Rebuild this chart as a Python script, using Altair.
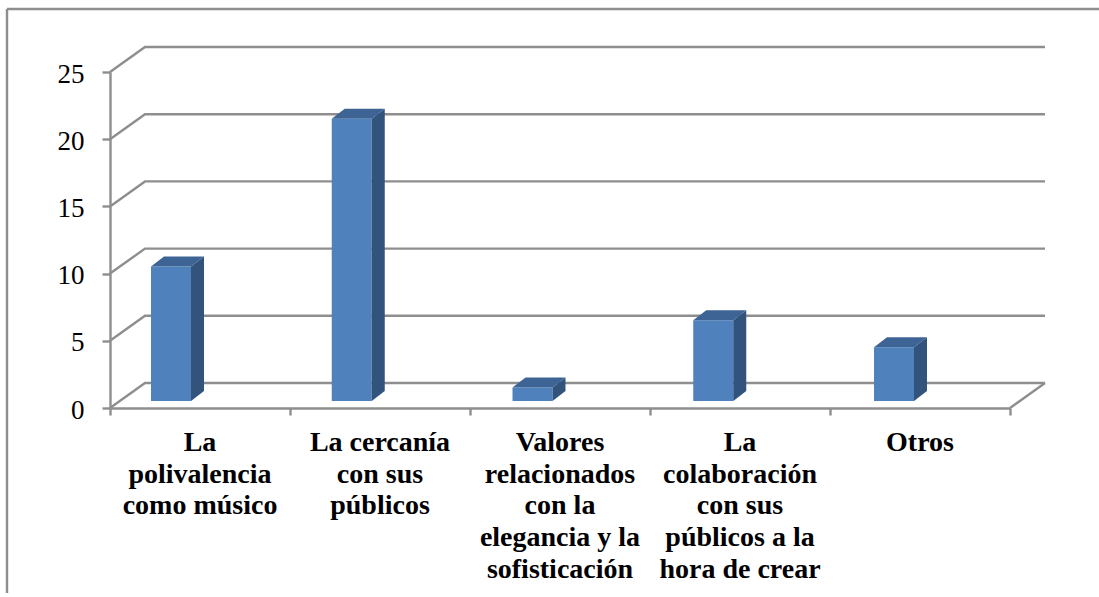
import altair as alt
import pandas as pd

# Survey responses per category
categories = [
    "La\npolivalencia\ncomo músico",
    "La cercanía\ncon sus\npúblicos",
    "Valores\nrelacionados\ncon la\nelegancia y la\nsofisticación",
    "La\ncolaboración\ncon sus\npúblicos a la\nhora de crear",
    "Otros",
]
values = [10, 21, 1, 6, 4]
y_ticks = [0, 5, 10, 15, 20, 25]
x_ticks = [0, 1, 2, 3, 4, 5]

GRAY = "#8e8e8e"
FRONT = "#4f81bd"
TOP = "#3d6494"
SIDE = "#32537c"
FONT = "Liberation Serif"
LINE_W = 2.4

# Oblique projection of the depth axis, in data units
WALL_DX, WALL_DY = 35 / 180, 25 / 13.44
BAR_DX, BAR_DY = 13 / 180, 10 / 13.44
BAR_LEFT, BAR_STEP, BAR_W, BAR_BASE = 41 / 180, 180.75 / 180, 40 / 180, 7 / 13.44

x_scale = alt.Scale(domain=[0, 5], nice=False, zero=False)
y_scale = alt.Scale(domain=[0, 25], nice=False, zero=False)


def X(field="x", **kw):
    return alt.X(f"{field}:Q", scale=x_scale, title=None, **kw)


def Y(field="y", **kw):
    return alt.Y(f"{field}:Q", scale=y_scale, title=None, **kw)


# Wall and floor gridlines: one diagonal plus one horizontal run per tick
grid_rows = []
for v in y_ticks:
    grid_rows += [
        {"g": v, "o": 0, "x": 0, "y": v},
        {"g": v, "o": 1, "x": WALL_DX, "y": v + WALL_DY},
        {"g": v, "o": 2, "x": 5 + WALL_DX, "y": v + WALL_DY},
    ]
grid_rows += [
    {"g": -1, "o": 0, "x": 5, "y": 0},
    {"g": -1, "o": 1, "x": 5 + WALL_DX, "y": WALL_DY},
]
grid = alt.Chart(pd.DataFrame(grid_rows)).mark_line(
    color=GRAY, strokeWidth=LINE_W, strokeJoin="miter"
).encode(X(), Y(), detail="g:N", order="o:Q")

# Bars: front face, side face and top face
front_rows, side_rows, top_rows = [], [], []
for i, v in enumerate(values):
    xl = i * BAR_STEP + BAR_LEFT
    xr = xl + BAR_W
    low = BAR_BASE
    high = BAR_BASE + v
    front_rows.append({"x": xl, "x2": xr, "y": low, "y2": high})
    side_rows += [
        {"b": i, "x": xr, "y": low, "y2": high},
        {"b": i, "x": xr + BAR_DX, "y": low + BAR_DY, "y2": high + BAR_DY},
    ]
    top_rows += [
        {"b": i, "x": xl, "x2": xr, "y": high},
        {"b": i, "x": xl + BAR_DX, "x2": xr + BAR_DX, "y": high + BAR_DY},
    ]

side = alt.Chart(pd.DataFrame(side_rows)).mark_area(color=SIDE).encode(
    X(), Y(), y2="y2:Q", detail="b:N"
)
top = alt.Chart(pd.DataFrame(top_rows)).mark_area(color=TOP, orient="horizontal").encode(
    X(), x2="x2:Q", y=Y(), detail="b:N"
)
front = alt.Chart(pd.DataFrame(front_rows)).mark_rect(color=FRONT).encode(
    X(), x2="x2:Q", y=Y(), y2="y2:Q"
)

# Value and category axes
axes = alt.Chart(pd.DataFrame({"x": [0], "y": [0]})).mark_point(opacity=0).encode(
    x=X(
        axis=alt.Axis(
            values=x_ticks, labels=False, grid=False, tickSize=7, tickWidth=LINE_W,
            tickColor=GRAY, domainColor=GRAY, domainWidth=LINE_W,
        ),
    ),
    y=Y(
        axis=alt.Axis(
            values=y_ticks, grid=False, tickSize=8, tickWidth=LINE_W, tickColor=GRAY,
            domainColor=GRAY, domainWidth=LINE_W, labelFont=FONT, labelFontSize=27,
            labelColor="#000000", labelPadding=18, labelOffset=2,
        ),
    ),
)

labels = alt.Chart(
    pd.DataFrame({"x": [i + 0.5 for i in range(len(categories))], "t": categories})
).mark_text(
    font=FONT, fontSize=28, fontWeight="bold", color="#000000", align="center",
    baseline="top", lineBreak="\n", lineHeight=31.7,
).encode(X(), y=alt.value(357), text="t:N")

# Outer chart frame, open on the right and bottom
frame_left = alt.Chart(pd.DataFrame({"a": [0]})).mark_rule(color=GRAY, strokeWidth=LINE_W).encode(
    x=alt.value(-103), y=alt.value(-63), y2=alt.value(525)
)
frame_top = alt.Chart(pd.DataFrame({"a": [0]})).mark_rule(color=GRAY, strokeWidth=LINE_W).encode(
    y=alt.value(-63), x=alt.value(-103), x2=alt.value(989)
)

chart = (
    alt.layer(axes, frame_left, frame_top, grid, front, side, top, labels)
    .properties(
        width=900,
        height=336,
        autosize=alt.AutoSizeParams(type="none"),
        padding={"left": 110, "top": 72, "right": 89, "bottom": 185},
        background="#ffffff",
    )
    .configure_view(stroke=None)
)

chart.save("out.html", embed_options={"renderer": "svg", "actions": False})
